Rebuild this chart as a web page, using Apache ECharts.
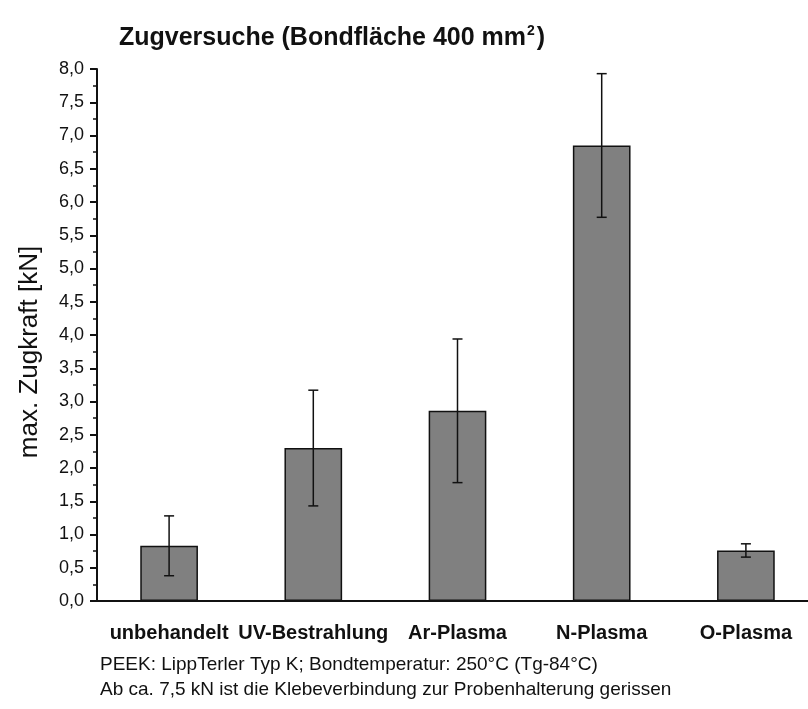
<!DOCTYPE html>
<html>
<head>
<meta charset="utf-8">
<script src="https://cdn.jsdelivr.net/npm/echarts@6/dist/echarts.min.js"></script>
<style>
  html, body { margin: 0; padding: 0; background: #fff; }
  #chart { width: 808px; height: 709px; }
</style>
</head>
<body>
<div id="chart"></div>
<script>
const categories = ['unbehandelt', 'UV-Bestrahlung', 'Ar-Plasma', 'N-Plasma', 'O-Plasma'];
const meanForce = [0.83, 2.30, 2.86, 6.85, 0.76];
const errForce = [0.45, 0.87, 1.08, 1.08, 0.10];
const yTicks = { min: 0, max: 8, interval: 0.5 };
const footerLines = [
  'PEEK: LippTerler Typ K; Bondtemperatur: 250°C (Tg-84°C)',
  'Ab ca. 7,5 kN ist die Klebeverbindung zur Probenhalterung gerissen'
];

const font = '"Liberation Sans", Arial, sans-serif';
const chart = echarts.init(document.getElementById('chart'));

// Fehlerbalken aus Mittelwert +/- Abweichung
const errData = meanForce.map((v, i) => [i, v - errForce[i], v + errForce[i]]);

chart.setOption({
  backgroundColor: '#fff',
  animation: false,
  title: {
    text: 'Zugversuche (Bondfläche 400 mm{sup|2})',
    left: 114,
    top: 19,
    textStyle: {
      fontFamily: font, fontSize: 25, fontWeight: 'bold', color: '#111',
      rich: {
        sup: { fontFamily: font, fontSize: 14, fontWeight: 'bold', color: '#111', verticalAlign: 'top', padding: [0, 2, 14, 1] }
      }
    }
  },
  graphic: footerLines.map((t, i) => ({
    type: 'text',
    left: 100,
    top: 655 + i * 25,
    style: { text: t, fontFamily: font, fontSize: 19, fill: '#111' }
  })),
  grid: { left: 97, top: 69, width: 721, height: 532, outerBoundsMode: 'none' },
  xAxis: [
    {
      type: 'category',
      data: categories,
      axisLine: { lineStyle: { color: '#111', width: 2 } },
      axisTick: { alignWithLabel: true, length: 8, lineStyle: { color: '#111', width: 2 } },
      axisLabel: { interval: 0, margin: 22, fontFamily: font, fontSize: 20, fontWeight: 'bold', color: '#111' }
    },
    {
      type: 'category',
      data: categories,
      position: 'bottom',
      axisLine: { show: false },
      axisTick: { length: 5, lineStyle: { color: '#111', width: 2 } },
      axisLabel: { show: false }
    }
  ],
  yAxis: {
    type: 'value',
    min: yTicks.min,
    max: yTicks.max,
    interval: yTicks.interval,
    name: 'max. Zugkraft [kN]',
    nameLocation: 'middle',
    nameGap: 54,
    nameTextStyle: { fontFamily: font, fontSize: 26, color: '#111', padding: [0, 34, 0, 0] },
    axisLine: { show: true, lineStyle: { color: '#111', width: 2 } },
    axisTick: { show: true, length: 7, lineStyle: { color: '#111', width: 2 } },
    minorTick: { show: true, splitNumber: 2, length: 4, lineStyle: { color: '#111', width: 1.5 } },
    splitLine: { show: false },
    axisLabel: {
      margin: 13,
      fontFamily: font,
      fontSize: 18,
      color: '#111',
      formatter: v => v.toFixed(1).replace('.', ',')
    }
  },
  series: [
    {
      type: 'bar',
      data: meanForce,
      barWidth: '40%',
      itemStyle: { color: '#808080', borderColor: '#111', borderWidth: 1.5 }
    },
    {
      type: 'custom',
      data: errData,
      z: 10,
      renderItem: (params, api) => {
        const x = api.value(0);
        const lo = api.coord([x, api.value(1)]);
        const hi = api.coord([x, api.value(2)]);
        const half = 5;
        const style = { stroke: '#111', lineWidth: 1.5 };
        return {
          type: 'group',
          children: [
            { type: 'line', shape: { x1: lo[0], y1: lo[1], x2: hi[0], y2: hi[1] }, style },
            { type: 'line', shape: { x1: hi[0] - half, y1: hi[1], x2: hi[0] + half, y2: hi[1] }, style },
            { type: 'line', shape: { x1: lo[0] - half, y1: lo[1], x2: lo[0] + half, y2: lo[1] }, style }
          ]
        };
      }
    }
  ]
});
</script>
</body>
</html>
